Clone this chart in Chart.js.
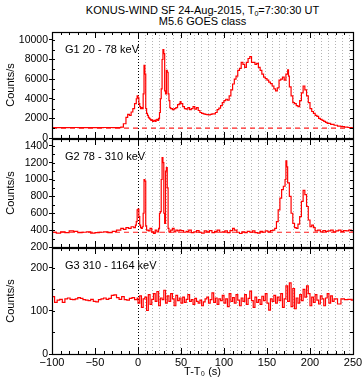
<!DOCTYPE html>
<html>
<head>
<meta charset="utf-8">
<script src="https://cdn.jsdelivr.net/npm/chart.js@4.4.1/dist/chart.umd.min.js"></script>
<style>
body { margin: 0; background: #fff; }
#wrap { position: relative; width: 363px; height: 379px; font-family: "Liberation Sans", Arial, sans-serif; }
#wrap canvas { position: absolute; left: 0; top: 0; }
#title { position: absolute; left: 52px; width: 301px; top: 5px; text-align: center; font-size: 11px; line-height: 11px; color: #000; }
#title sub { font-size: 7px; line-height: 0; vertical-align: -2px; }
</style>
</head>
<body>
<div id="wrap">
  <div id="title">KONUS-WIND SF 24-Aug-2015, T<sub>0</sub>=7:30:30 UT<br>M5.6 GOES class</div>
  <canvas id="g3" width="363" height="379"></canvas>
  <canvas id="g2" width="363" height="379"></canvas>
  <canvas id="g1" width="363" height="379"></canvas>
</div>
<script>
// time axis
const xTicks = [-100, -50, 0, 50, 100, 150, 200, 250];
// boundaries of the spectral intervals (dotted lines), 8.192 s each
const specBounds = Array.from({length: 31}, (_, k) => k * 8.192);

// G1 20 - 78 keV
const tG1 = [-100, -90, -80, -70, -60, -50, -40, -30, -20, -17, -14, -12, -10, -8, -6, -4, -2, -1,
  0, 1, 2, 3, 4, 5, 6, 7, 8, 9, 10, 11, 12, 13, 14, 15, 16, 17, 18, 19, 20, 21, 22, 23, 24,
  25, 26, 27, 28, 29, 30, 31, 32, 33, 34, 35, 36, 37, 38, 40, 42, 44, 46, 48, 49, 50,
  52, 54, 56, 58, 60, 62, 64, 66, 68, 70, 72, 74, 76, 78, 80, 82, 84, 86, 88, 90, 92, 94, 96, 98,
  100, 102, 104, 106, 108, 110, 112, 114, 116, 118, 120, 122, 124, 126, 128, 130, 132, 134, 136, 138,
  140, 142, 144, 146, 148, 150, 152, 154, 156, 158, 160, 162, 164, 166, 168, 170, 172, 174, 175, 176, 178,
  180, 182, 184, 186, 188, 190, 192, 194, 196, 198, 200, 202, 204, 206, 208, 210, 212, 214, 216, 218,
  220, 224, 228, 232, 236, 240, 244, 248, 250];
const vG1 = [1060, 1050, 1070, 1050, 1060, 1050, 1070, 1060, 1100, 1450, 2100, 2400, 2300, 2650, 3000, 3500, 4000, 4300,
  4100, 3500, 3200, 3000, 3100, 3000, 4500, 7400, 6500, 3000, 2500, 2300, 2100, 2000, 1900, 1800, 1850, 1700, 1750, 1800, 1700, 1850, 1900, 1800, 2000,
  2600, 4000, 5000, 8000, 9000, 8600, 4800, 4500, 6900, 6700, 4500, 3800, 3100, 3000, 2900, 3000, 3100, 3400, 3500, 3700, 3500,
  3200, 3000, 2950, 3100, 2900, 3000, 3200, 2950, 3100, 2800, 2600, 2500, 2450, 2400, 2380, 2350, 2400, 2450, 2450, 2600, 2900, 3050, 3300, 3600,
  3800, 3950, 3850, 4300, 4900, 5500, 6000, 6300, 6900, 7100, 7700, 7500, 7200, 7700, 8100, 8300, 7700, 7700, 7500, 7600,
  7200, 6900, 6500, 6200, 6050, 5900, 5700, 5550, 5300, 5000, 4800, 5100, 5900, 6000, 6200, 5900, 6500, 6950, 6300, 5200, 4300,
  3600, 3500, 3300, 3200, 3800, 4600, 5300, 4900, 4300, 3600, 3000, 2700, 2500, 2300, 2200, 2000, 1900, 1800, 1700, 1600,
  1500, 1380, 1300, 1200, 1150, 1100, 1070, 1040, 1030];
const bgG1 = 1000;
const yTicksG1 = [0, 2000, 4000, 6000, 8000, 10000];

// G2 78 - 310 keV
const tG2 = [-100, -95, -90, -85, -80, -75, -70, -65, -60, -55, -50, -45, -40, -35, -30, -25, -20, -17, -14, -11, -8, -5, -3, -2, -1,
  0, 1, 2, 3, 4, 5, 6, 7, 8, 9, 10, 12, 14, 16, 18, 20, 22, 24, 25, 26, 27, 28, 29, 30, 31, 32, 33, 34, 35, 36, 38,
  40, 42, 44, 46, 48, 50, 53, 56, 59, 62, 65, 68, 71, 74, 77, 80, 83, 86, 89, 92, 95, 98,
  101, 104, 107, 110, 112, 115, 118, 121, 124, 127, 130, 133, 136, 139, 142, 145, 148, 151, 154, 157, 159,
  161, 163, 165, 167, 169, 171, 172, 173, 174, 176, 178, 180, 182, 184, 186, 188, 190, 192, 194, 196, 198,
  200, 202, 204, 206, 209, 212, 215, 218, 221, 224, 227, 230, 233, 236, 239, 242, 245, 248, 250];
const vG2 = [375, 365, 380, 370, 390, 385, 370, 375, 380, 365, 370, 375, 380, 370, 385, 400, 420, 410, 430, 420, 440, 430, 460, 500, 640,
  650, 560, 460, 430, 420, 440, 600, 1000, 980, 450, 400, 390, 420, 380, 360, 400, 380, 420, 600, 620, 1000, 1260, 1200, 600, 480, 1100, 1140, 900, 420, 380, 400,
  420, 380, 400, 390, 400, 395, 375, 385, 400, 370, 380, 395, 375, 365, 390, 380, 395, 370, 385, 400, 375, 380,
  390, 370, 395, 420, 400, 375, 360, 380, 370, 385, 375, 390, 370, 365, 385, 375, 390, 380, 395, 400, 420,
  500, 640, 780, 880, 920, 1000, 1220, 1150, 960, 800, 600, 480, 430, 420, 470, 560, 740, 870, 820, 680, 520,
  440, 460, 430, 390, 400, 380, 395, 385, 390, 400, 380, 390, 400, 385, 395, 390, 400, 390, 385];
const bgG2 = 375;
const yTicksG2 = [200, 400, 600, 800, 1000, 1200, 1400];

// G3 310 - 1164 keV
const tG3 = [-100, -97, -94, -91, -88, -85, -82, -79, -76, -73, -70, -67, -64, -61, -58, -55, -52, -49, -46, -43, -40,
  -37, -34, -31, -28, -25, -22, -19, -16, -13, -10, -7, -4, -1,
  0, 2, 4, 6, 8, 10, 12, 14, 16, 18, 20, 22, 24, 26, 28, 30, 32, 34, 36, 38, 40, 42, 44, 46, 48,
  50, 52, 54, 56, 58, 60, 62, 64, 66, 68, 70, 72, 74, 76, 78, 80, 82, 84, 86, 88, 90, 92, 94, 96, 98,
  100, 102, 104, 106, 108, 110, 112, 114, 116, 118, 120, 122, 124, 126, 128, 130, 132, 134, 136, 138,
  140, 142, 144, 146, 148, 150, 152, 154, 156, 158, 160, 162, 164, 166, 168, 170, 172, 174, 176, 178,
  180, 182, 184, 186, 188, 190, 192, 194, 196, 198, 200, 202, 204, 206, 208, 210, 212, 214, 216, 218,
  220, 222, 224, 226, 228, 232, 236, 240, 244, 248, 250];
const vG3 = [133, 120, 125, 127, 120, 128, 130, 127, 126, 128, 131, 129, 126, 125, 124, 127, 122, 121, 126, 128, 130,
  127, 129, 136, 137, 131, 127, 133, 126, 125, 129, 131, 126, 130,
  118, 135, 108, 128, 132, 101, 138, 115, 127, 140, 122, 145, 112, 130, 126, 148, 118, 135, 122, 140, 128, 112, 136, 124, 130,
  118, 132, 120, 127, 138, 122, 126, 115, 129, 122, 118, 125, 112, 121, 128, 132, 118, 126, 142, 120, 130, 115, 128, 124, 136,
  118, 128, 110, 140, 122, 131, 118, 138, 125, 112, 130, 122, 138, 115, 129, 146, 124, 108, 132, 120,
  126, 115, 134, 124, 140, 118, 102, 128, 122, 136, 118, 132, 124, 140, 108, 128, 158, 122, 165, 110,
  152, 105, 130, 118, 138, 124, 150, 132, 158, 140, 112, 132, 120, 138, 125, 116, 135, 128, 112, 130,
  140, 118, 135, 122, 128, 116, 128, 126, 127, 125, 128];
const yTicksG3 = [0, 100, 200];

const FONT = '"Liberation Sans", Arial, sans-serif';
Chart.defaults.font.family = FONT;
Chart.defaults.color = '#000';

const framePlugin = {
  id: 'frame',
  beforeDatasetsDraw(chart, args, o) {
    const {ctx, chartArea: a, scales: {x}} = chart;
    ctx.save();
    ctx.lineWidth = 1;
    ctx.setLineDash([1, 2]);
    specBounds.forEach(t => {
      const px = Math.round(x.getPixelForValue(t)) + 0.5;
      ctx.strokeStyle = t === 0 ? '#000' : '#b4b4b4';
      ctx.beginPath();
      ctx.moveTo(px, a.top);
      ctx.lineTo(px, a.bottom);
      ctx.stroke();
    });
    ctx.restore();
  },
  afterDraw(chart, args, o) {
    const {ctx, chartArea: a, scales: {x, y}} = chart;
    ctx.save();
    ctx.strokeStyle = '#000';
    ctx.lineWidth = 1;
    // ticks along top and bottom, every 10 s
    for (let t = -100; t <= 250; t += 10) {
      const px = Math.round(x.getPixelForValue(t)) + 0.5;
      const len = t % 50 === 0 ? 6 : 3;
      ctx.beginPath();
      ctx.moveTo(px, a.top); ctx.lineTo(px, a.top + len);
      ctx.moveTo(px, a.bottom); ctx.lineTo(px, a.bottom - len);
      ctx.stroke();
    }
    // minor ticks on both vertical sides
    for (let v = y.min; v <= y.max; v += o.minor) {
      const py = Math.round(y.getPixelForValue(v)) + 0.5;
      ctx.beginPath();
      ctx.moveTo(a.left, py); ctx.lineTo(a.left + 3, py);
      ctx.moveTo(a.right, py); ctx.lineTo(a.right - 3, py);
      ctx.stroke();
    }
    ctx.lineWidth = 1.2;
    ctx.strokeRect(Math.round(a.left) + 0.5, Math.round(a.top) + 0.5, Math.round(a.right - a.left), Math.round(a.bottom - a.top));
    ctx.fillStyle = '#000';
    ctx.font = '11px ' + FONT;
    ctx.textBaseline = 'middle';
    ctx.fillText(o.label, a.left + 13, a.top + 18);
    ctx.restore();
  }
};

function toXY(ts, vs) {
  return ts.map((t, i) => ({x: t, y: vs[i]}));
}

function makePanel(id, cfg) {
  const datasets = [{
    data: toXY(cfg.t, cfg.v),
    borderColor: '#ff0000', borderWidth: 1.2, pointRadius: 0, stepped: true
  }];
  if (cfg.bg !== undefined) {
    datasets.push({
      data: [{x: -100, y: cfg.bg}, {x: 250, y: cfg.bg}],
      borderColor: '#ff2020', borderWidth: 1.2, pointRadius: 0, borderDash: [5, 4]
    });
  }
  return new Chart(document.getElementById(id), {
    type: 'line',
    data: {datasets},
    options: {
      responsive: false,
      animation: false,
      layout: {padding: cfg.padding},
      plugins: {legend: {display: false}, tooltip: {enabled: false},
        frame: {label: cfg.label, minor: cfg.minor}},
      scales: {
        x: {
          type: 'linear', min: -100, max: 250,
          display: cfg.showX,
          afterFit: s => {
            if (cfg.showX) s.height = 25;
            s.paddingLeft = 0;
            s.paddingRight = 0;
          },
          afterBuildTicks: s => { s.ticks = xTicks.map(v => ({value: v})); },
          grid: {display: false, drawTicks: false},
          border: {display: false},
          ticks: {font: {size: 11}, padding: 2, maxRotation: 0, autoSkip: false,
            callback: v => v < 0 ? '\u2212' + (-v) : String(v)},
          title: {display: true, text: 'T-T\u2080 (s)', font: {size: 11}, padding: {top: 0, bottom: 0}}
        },
        y: {
          min: cfg.min, max: cfg.max,
          afterFit: s => { s.width = 52; },
          afterBuildTicks: s => { s.ticks = cfg.yTicks.map(v => ({value: v})); },
          grid: {drawOnChartArea: false, drawTicks: true, tickLength: 3, color: '#000'},
          border: {display: false},
          ticks: {font: {size: 10.5}, padding: 1, autoSkip: false, callback: v => String(v)},
          title: {display: true, text: 'Counts/s', font: {size: 11}, padding: {top: 4, bottom: 0}}
        }
      }
    },
    plugins: [framePlugin]
  });
}

makePanel('g1', {t: tG1, v: vG1, bg: bgG1, min: 0, max: 10800, yTicks: yTicksG1, minor: 1000,
  label: 'G1 20 - 78 keV', showX: false, padding: {left: 0, right: 10, top: 32, bottom: 241}});
makePanel('g2', {t: tG2, v: vG2, bg: bgG2, min: 200, max: 1480, yTicks: yTicksG2, minor: 100,
  label: 'G2 78 - 310 keV', showX: false, padding: {left: 0, right: 10, top: 139, bottom: 132}});
makePanel('g3', {t: tG3, v: vG3, min: 0, max: 246, yTicks: yTicksG3, minor: 50,
  label: 'G3 310 - 1164 keV', showX: true, padding: {left: 0, right: 10, top: 248, bottom: 0}});
</script>
</body>
</html>
